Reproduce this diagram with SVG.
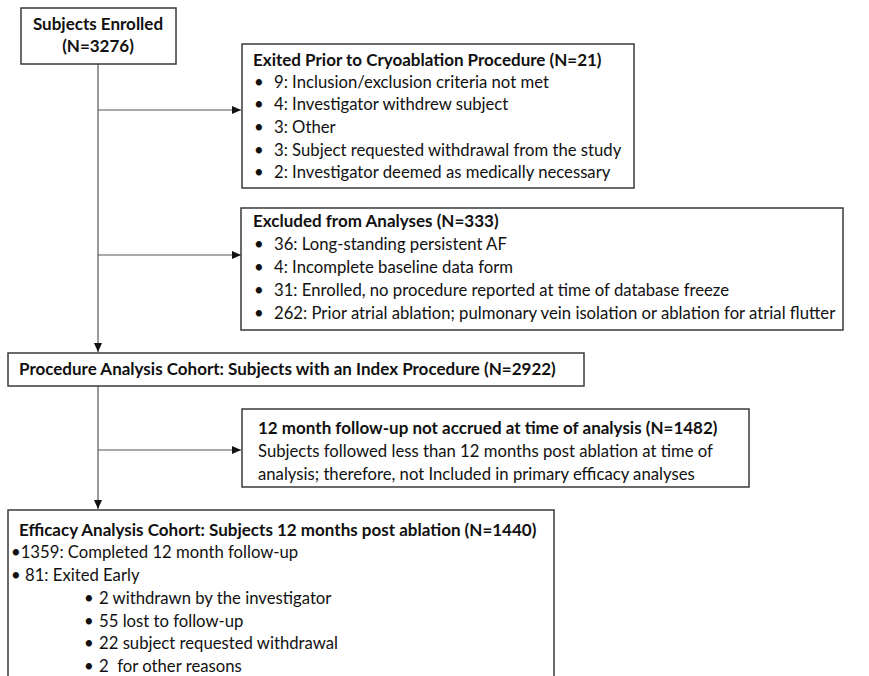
<svg xmlns="http://www.w3.org/2000/svg" width="869" height="676" viewBox="0 0 869 676">
<style>
.box{fill:#fff;stroke:#3a3a3a;stroke-width:1.5}
.t{font-family:Lato,'Liberation Sans',sans-serif;font-size:16.7px;fill:#111}
.b{font-weight:bold;font-size:17px}
.c{text-anchor:middle}
.ln{stroke:#555;stroke-width:1.2;fill:none}
</style>
<defs>
<marker id="ah" markerWidth="10" markerHeight="10" refX="9" refY="5" orient="auto" markerUnits="userSpaceOnUse"><path d="M0,1 L9,5 L0,9 z" fill="#111"/></marker>
</defs>
<rect width="869" height="676" fill="#fff"/>
<g id="connectors">
<path class="ln" d="M98,64 V352" marker-end="url(#ah)"/>
<path class="ln" d="M98,110 H241" marker-end="url(#ah)"/>
<path class="ln" d="M98,255 H241" marker-end="url(#ah)"/>
<path class="ln" d="M98,386 V509" marker-end="url(#ah)"/>
<path class="ln" d="M98,450 H241" marker-end="url(#ah)"/>
</g>
<g id="enrolled">
<rect class="box" x="21" y="8" width="155" height="56"/>
<text class="t b c" x="98" y="30">Subjects Enrolled</text>
<text class="t b c" x="98" y="52">(N=3276)</text>
</g>
<g id="exited">
<rect class="box" x="242" y="44" width="392" height="144"/>
<text class="t b" x="253" y="66">Exited Prior to Cryoablation Procedure (N=21)</text>
<text class="t" x="254" y="88">•</text><text class="t" x="274" y="88">9: Inclusion/exclusion criteria not met</text>
<text class="t" x="254" y="110">•</text><text class="t" x="274" y="110">4: Investigator withdrew subject</text>
<text class="t" x="254" y="133">•</text><text class="t" x="274" y="133">3: Other</text>
<text class="t" x="254" y="156">•</text><text class="t" x="274" y="156">3: Subject requested withdrawal from the study</text>
<text class="t" x="254" y="178">•</text><text class="t" x="274" y="178">2: Investigator deemed as medically necessary</text>
</g>
<g id="excluded">
<rect class="box" x="241" y="208" width="602" height="122"/>
<text class="t b" x="253" y="227">Excluded from Analyses (N=333)</text>
<text class="t" x="254" y="250">•</text><text class="t" x="274" y="250">36: Long-standing persistent AF</text>
<text class="t" x="254" y="273">•</text><text class="t" x="274" y="273">4: Incomplete baseline data form</text>
<text class="t" x="254" y="296">•</text><text class="t" x="274" y="296">31: Enrolled, no procedure reported at time of database freeze</text>
<text class="t" x="254" y="319">•</text><text class="t" x="274" y="319">262: Prior atrial ablation; pulmonary vein isolation or ablation for atrial flutter</text>
</g>
<g id="procedure">
<rect class="box" x="8" y="353" width="576" height="33"/>
<text class="t b" x="19" y="375">Procedure Analysis Cohort: Subjects with an Index Procedure (N=2922)</text>
</g>
<g id="notaccrued">
<rect class="box" x="242" y="409" width="507" height="78"/>
<text class="t b" x="258" y="434">12 month follow-up not accrued at time of analysis (N=1482)</text>
<text class="t" x="258" y="457">Subjects followed less than 12 months post ablation at time of</text>
<text class="t" x="258" y="480">analysis; therefore, not Included in primary efficacy analyses</text>
</g>
<g id="efficacy">
<rect class="box" x="8" y="510" width="546" height="180"/>
<text class="t b" x="19" y="536">Efficacy Analysis Cohort: Subjects 12 months post ablation (N=1440)</text>
<text class="t" x="11" y="558">•1359: Completed 12 month follow-up</text>
<text class="t" x="11" y="581">• 81: Exited Early</text>
<text class="t" x="84" y="604">•</text><text class="t" x="99" y="604">2 withdrawn by the investigator</text>
<text class="t" x="84" y="627">•</text><text class="t" x="99" y="627">55 lost to follow-up</text>
<text class="t" x="84" y="649">•</text><text class="t" x="99" y="649">22 subject requested withdrawal</text>
<text class="t" x="84" y="672">•</text><text class="t" x="99" y="672" xml:space="preserve">2  for other reasons</text>
</g>
</svg>
